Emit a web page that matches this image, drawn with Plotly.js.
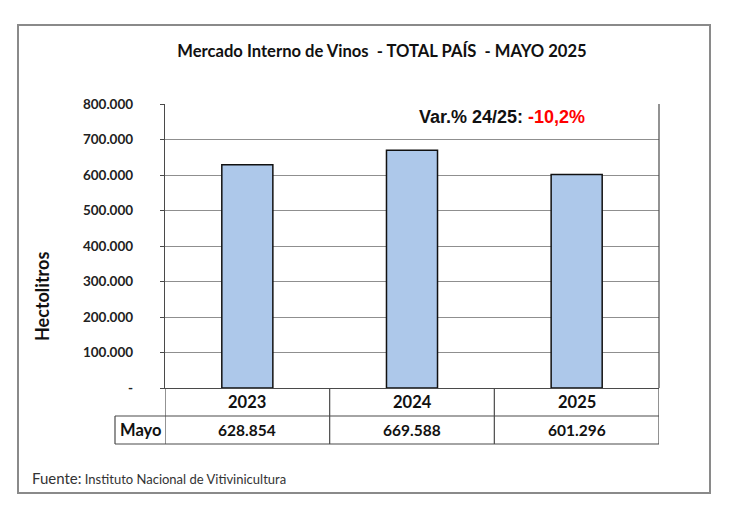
<!DOCTYPE html>
<html>
<head>
<meta charset="utf-8">
<script src="https://cdn.plot.ly/plotly-3.0.1.min.js"></script>
<style>html,body{margin:0;padding:0;background:#fff;}</style>
</head>
<body>
<div id="chart" style="width:730px;height:510px;"></div>
<script>
// ---- Data ----
const years = ['2023', '2024', '2025'];
const values = [628854, 669588, 601296];
const valueLabels = ['628.854', '669.588', '601.296'];
const rowLabel = 'Mayo';
const tickVals = [0, 100000, 200000, 300000, 400000, 500000, 600000, 700000, 800000];
const tickText = ['-', '100.000', '200.000', '300.000', '400.000', '500.000', '600.000', '700.000', '800.000'];
const titleText = 'Mercado Interno de Vinos &nbsp;- TOTAL PAÍS &nbsp;- MAYO 2025';
const varLabel = 'Var.% 24/25: ';
const varValue = '-10,2%';
const sourceLabel = 'Fuente:';
const sourceText = 'Instituto Nacional de Vitivinicultura';

// ---- Layout helpers (pixel -> paper) ----
const W = 730, H = 510;
const L = 165, R = 659, T = 104, B = 388;
const px = x => (x - L) / (R - L);
const py = y => (B - y) / (B - T);

const font = 'Lato, "Open Sans", sans-serif';
const lineCol = '#4a4a4a';

const shapes = [];
const annotations = [];

// outer frame
shapes.push({type:'rect', xref:'paper', yref:'paper', x0:px(18), x1:px(710), y0:py(25), y1:py(493),
  line:{color:'#8a8a8a', width:2}, fillcolor:'rgba(0,0,0,0)', layer:'below'});

// table lines
const rowTop = B, rowMid = 416, rowBot = 444, labelLeft = 115;
for (let i = 0; i <= years.length; i++) {
  shapes.push({type:'line', xref:'x', yref:'paper', x0:i - 0.5, x1:i - 0.5, y0:py(rowTop), y1:py(rowBot),
    line:{color:lineCol, width:1.2}});
}
shapes.push({type:'line', xref:'paper', yref:'paper', x0:px(labelLeft), x1:1, y0:py(rowMid), y1:py(rowMid), line:{color:lineCol, width:1.2}});
shapes.push({type:'line', xref:'paper', yref:'paper', x0:px(labelLeft), x1:1, y0:py(rowBot), y1:py(rowBot), line:{color:lineCol, width:1.2}});
shapes.push({type:'line', xref:'paper', yref:'paper', x0:px(labelLeft), x1:px(labelLeft), y0:py(rowMid), y1:py(rowBot), line:{color:lineCol, width:1.2}});
shapes.push({type:'line', xref:'paper', yref:'paper', x0:1, x1:1, y0:0, y1:1, line:{color:lineCol, width:1.2}});

// white box behind variation text
shapes.push({type:'rect', xref:'paper', yref:'paper', x0:px(403), x1:px(602), y0:py(132), y1:py(99),
  line:{width:0}, fillcolor:'#ffffff', layer:'above'});

// table texts
years.forEach((yr, i) => {
  annotations.push({xref:'x', yref:'paper', x:i, y:py((rowTop + rowMid) / 2), text:'<b>' + yr + '</b>',
    showarrow:false, xanchor:'center', yanchor:'middle', font:{family:font, size:16.5, color:'#111'}});
  annotations.push({xref:'x', yref:'paper', x:i, y:py((rowMid + rowBot) / 2), text:'<b>' + valueLabels[i] + '</b>',
    showarrow:false, xanchor:'center', yanchor:'middle', font:{family:font, size:15.5, color:'#111'}});
});
annotations.push({xref:'paper', yref:'paper', x:px(labelLeft) / 2, y:py((rowMid + rowBot) / 2), text:'<b>' + rowLabel + '</b>',
  showarrow:false, xanchor:'center', yanchor:'middle', font:{family:font, size:16.5, color:'#111'}});

// y axis title
annotations.push({xref:'paper', yref:'paper', x:px(42), y:py(297), text:'<b>Hectolitros</b>', textangle:-90,
  showarrow:false, xanchor:'center', yanchor:'middle', font:{family:font, size:18, color:'#111'}});

// variation annotation
annotations.push({xref:'paper', yref:'paper', x:px(502), y:py(117),
  text:'<b>' + varLabel + '<span style="color:#ff0000">' + varValue + '</span></b>',
  showarrow:false, xanchor:'center', yanchor:'middle', font:{family:'"Liberation Sans", Arial, sans-serif', size:18, color:'#111'}});

// source
annotations.push({xref:'paper', yref:'paper', x:px(30), y:py(478),
  text:'<span style="font-size:15px">' + sourceLabel + '</span> ' + sourceText,
  showarrow:false, xanchor:'left', yanchor:'middle', font:{family:font, size:13, color:'#333'}});

const trace = {
  type:'bar', x:years, y:values,
  marker:{color:'#adc8ea', line:{color:'#111', width:1.5}},
  width:0.31, hoverinfo:'skip'
};

const layout = {
  width:W, height:H,
  margin:{l:L, r:W - R, t:T, b:H - B, pad:0},
  paper_bgcolor:'#fff', plot_bgcolor:'#fff',
  showlegend:false,
  title:{text:'<b>' + titleText + '</b>', x:382 / W, xanchor:'center', y:1 - 51 / H, yanchor:'middle',
    font:{family:font, size:16.6, color:'#111'}},
  xaxis:{type:'category', range:[-0.5, 2.5], showticklabels:false, ticks:'', showgrid:false,
    showline:true, linecolor:lineCol, linewidth:1.2, zeroline:false, fixedrange:true},
  yaxis:{range:[0, 800000], tickvals:tickVals, ticktext:tickText, ticks:'outside', ticklen:4,
    tickcolor:lineCol, showline:true, linecolor:lineCol, linewidth:1.2, showgrid:true,
    gridcolor:'#8f8f8f', gridwidth:1, zeroline:false, ticklabelstandoff:24,
    tickfont:{family:font, size:13.5, color:'#222', weight:'bold'}, fixedrange:true},
  shapes:shapes, annotations:annotations
};

Plotly.newPlot('chart', [trace], layout, {displayModeBar:false, staticPlot:true});
</script>
</body>
</html>
